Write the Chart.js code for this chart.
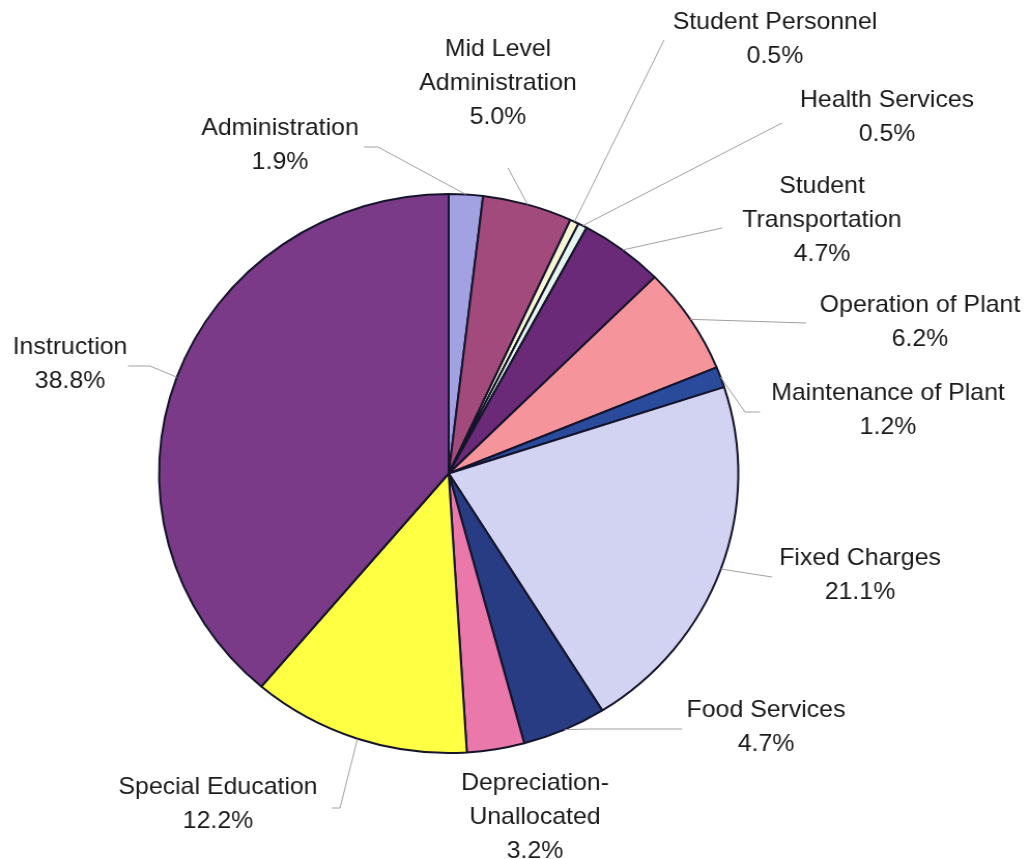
<!DOCTYPE html>
<html lang="en">
  <head>
    <meta charset="UTF-8" />
    <title>Expenditures by Function</title>
    <script src="https://cdn.jsdelivr.net/npm/chart.js"></script>
    <style>
      html, body { margin: 0; padding: 0; background: #fff; overflow: hidden; }
      #wrap { width: 1030px; height: 859px; }
      /* the original scan is a touch wider than tall, so stretch the canvas */
      #pieChart { width: 1030px !important; height: 859px !important; }
    </style>
  </head>
  <body>
    <div id="wrap"><canvas id="pieChart" width="994" height="859"></canvas></div>
    <script>
      // categories (multi-line as shown) and their shares in percent
      const categories = [
        ["Administration"],
        ["Mid Level", "Administration"],
        ["Student Personnel"],
        ["Health Services"],
        ["Student", "Transportation"],
        ["Operation of Plant"],
        ["Maintenance of Plant"],
        ["Fixed Charges"],
        ["Food Services"],
        ["Depreciation-", "Unallocated"],
        ["Special Education"],
        ["Instruction"],
      ];
      const shares = [1.9, 5.0, 0.5, 0.5, 4.7, 6.2, 1.2, 21.1, 4.7, 3.2, 12.2, 38.8];
      const colors = [
        "#a2a2e2", "#a24a7c", "#f6f6d4", "#e6f4ee", "#6a2a78", "#f6949c",
        "#2a4a9c", "#d2d2f2", "#283c84", "#ea78aa", "#ffff44", "#7a3a88",
      ];

      const sx = 1030 / 994; // horizontal stretch applied by css

      // label layout in page pixels: text centre x, first line centre y, leader start and optional elbow
      const labelPos = [
        { x: 280, y: 128, from: [364, 147], elbow: [378, 147] },
        { x: 498, y: 49, from: [508, 168], elbow: null },
        { x: 775, y: 22, from: [664, 40], elbow: null },
        { x: 887, y: 100, from: [782, 123], elbow: null },
        { x: 822, y: 186, from: [722, 228], elbow: null },
        { x: 920, y: 305, from: [806, 323], elbow: null },
        { x: 888, y: 393, from: [760, 412], elbow: [745, 412] },
        { x: 860, y: 558, from: [772, 577], elbow: null },
        { x: 766, y: 710, from: [682, 729], elbow: [590, 729] },
        { x: 535, y: 783, from: null, elbow: null },
        { x: 218, y: 787, from: [332, 808], elbow: [340, 808] },
        { x: 70, y: 347, from: [128, 366], elbow: [150, 366] },
      ];
      const lineGap = 34;

      const labelPlugin = {
        id: "pieLabels",
        afterDatasetsDraw(chart) {
          const ctx = chart.ctx;
          const arcs = chart.getDatasetMeta(0).data;
          ctx.save();
          // leader lines
          ctx.strokeStyle = "#a0a0a0";
          ctx.lineWidth = 1;
          arcs.forEach((arc, i) => {
            const p = labelPos[i];
            if (!p.from) return;
            const mid = (arc.startAngle + arc.endAngle) / 2;
            const ex = arc.x + Math.cos(mid) * arc.outerRadius;
            const ey = arc.y + Math.sin(mid) * arc.outerRadius;
            ctx.beginPath();
            ctx.moveTo(p.from[0] / sx, p.from[1]);
            if (p.elbow) ctx.lineTo(p.elbow[0] / sx, p.elbow[1]);
            ctx.lineTo(ex, ey);
            ctx.stroke();
          });
          // texts
          ctx.fillStyle = "#1a1a1a";
          ctx.font = "24px 'Liberation Sans', Arial, sans-serif";
          ctx.textAlign = "center";
          ctx.textBaseline = "middle";
          categories.forEach((lines, i) => {
            const p = labelPos[i];
            const all = lines.concat([shares[i].toFixed(1) + "%"]);
            all.forEach((t, k) => ctx.fillText(t, p.x / sx, p.y + k * lineGap));
          });
          ctx.restore();
        },
      };

      new Chart(document.getElementById("pieChart"), {
        type: "pie",
        data: {
          labels: categories.map((c) => c.join(" ")),
          datasets: [
            {
              data: shares,
              backgroundColor: colors,
              borderColor: "#14142a",
              borderWidth: 2,
            },
          ],
        },
        options: {
          responsive: false,
          animation: false,
          layout: { padding: { left: 152, right: 280, top: 193, bottom: 105 } },
          plugins: {
            legend: { display: false },
            tooltip: { enabled: false },
          },
        },
        plugins: [labelPlugin],
      });
    </script>
  </body>
</html>
